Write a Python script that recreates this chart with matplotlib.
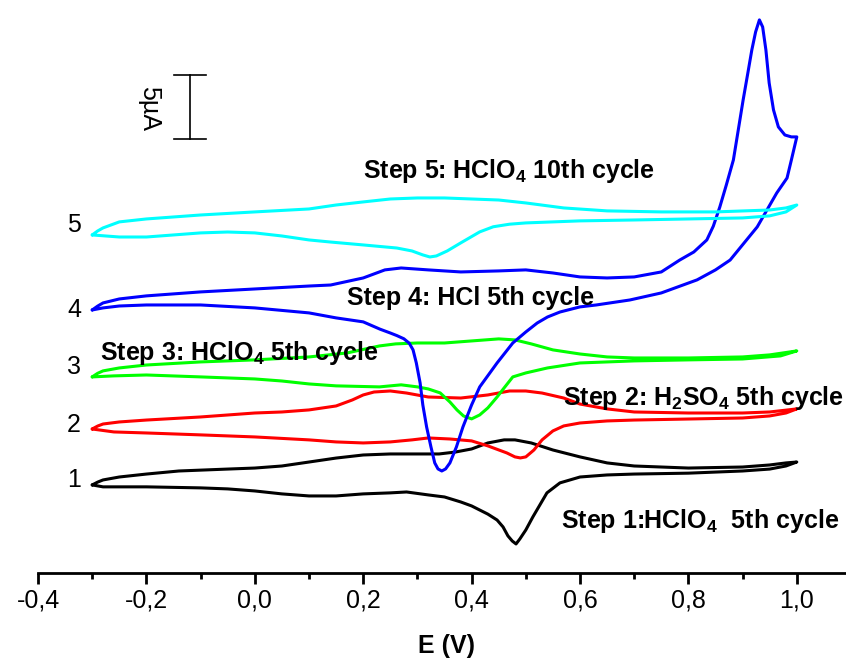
import matplotlib
matplotlib.use("Agg")
import matplotlib.pyplot as plt
from matplotlib.ticker import FixedLocator, FixedFormatter

plt.rcParams['font.family'] = ['Liberation Sans', 'DejaVu Sans']
plt.rcParams['mathtext.default'] = 'regular'

# ---------------- data (E in V, I in µA, curves vertically offset) ----------------
# Curve 1 (black) - Step 1: HClO4 5th cycle
E1_fwd = [-0.30, -0.29, -0.28, -0.25, -0.20, -0.14, -0.05, 0.00, 0.05, 0.10, 0.15, 0.20, 0.25, 0.30, 0.34,
          0.37, 0.40, 0.43, 0.46, 0.48, 0.51, 0.55, 0.60, 0.65, 0.70, 0.80, 0.90, 0.95, 0.98, 1.00]
I1_fwd = [6.88, 7.10, 7.27, 7.50, 7.73, 7.97, 8.12, 8.20, 8.36, 8.67, 8.98, 9.22, 9.30, 9.30, 9.30,
          9.45, 9.69, 10.16, 10.40, 10.40, 10.16, 9.61, 9.07, 8.60, 8.36, 8.20, 8.28, 8.44, 8.60, 8.67]
E1_rev = [1.00, 0.98, 0.95, 0.90, 0.80, 0.70, 0.65, 0.60, 0.563, 0.539, 0.526, 0.513, 0.50, 0.489,
          0.482, 0.475, 0.467, 0.458, 0.447, 0.43, 0.40, 0.38, 0.35, 0.32, 0.28, 0.25, 0.20, 0.15,
          0.10, 0.05, 0.00, -0.05, -0.10, -0.20, -0.28, -0.30]
I1_rev = [8.67, 8.36, 8.12, 7.97, 7.80, 7.73, 7.66, 7.50, 7.04, 6.26, 5.32, 4.38, 3.36, 2.66,
          2.27, 2.50, 2.90, 3.60, 4.14, 4.60, 5.24, 5.55, 5.94, 6.10, 6.33, 6.26, 6.18, 6.02,
          6.02, 6.18, 6.41, 6.57, 6.65, 6.73, 6.73, 6.88]

# Curve 2 (red) - Step 2: H2SO4 5th cycle
E2_fwd = [-0.30, -0.29, -0.28, -0.25, -0.20, -0.10, 0.00, 0.05, 0.10, 0.15, 0.18, 0.20, 0.22, 0.25, 0.28,
          0.32, 0.38, 0.43, 0.47, 0.50, 0.53, 0.57, 0.60, 0.65, 0.70, 0.80, 0.90, 0.95, 1.00]
I2_fwd = [11.25, 11.48, 11.64, 11.80, 11.95, 12.19, 12.50, 12.58, 12.74, 13.05, 13.52, 13.91, 14.14, 14.22, 14.06,
          13.75, 13.67, 13.91, 14.22, 14.22, 14.06, 13.67, 13.20, 12.82, 12.58, 12.50, 12.50, 12.58, 12.82]
E2_rev = [1.00, 0.98, 0.95, 0.90, 0.80, 0.70, 0.65, 0.60, 0.57, 0.55, 0.53, 0.515, 0.50, 0.49,
          0.48, 0.465, 0.43, 0.40, 0.36, 0.32, 0.29, 0.25, 0.20, 0.15, 0.10, 0.00, -0.10, -0.20,
          -0.26, -0.30]
I2_rev = [12.82, 12.50, 12.27, 12.11, 12.03, 11.95, 11.88, 11.72, 11.49, 11.10, 10.40, 9.61, 9.07, 8.99,
          9.07, 9.38, 9.93, 10.32, 10.47, 10.55, 10.40, 10.24, 10.16, 10.24, 10.40, 10.63, 10.79, 10.94,
          11.02, 11.25]

# Curve 3 (green) - Step 3: HClO4 5th cycle
E3_fwd = [-0.30, -0.29, -0.28, -0.25, -0.20, -0.10, 0.00, 0.10, 0.17, 0.23, 0.26, 0.30, 0.35, 0.40, 0.45,
          0.48, 0.51, 0.55, 0.60, 0.65, 0.70, 0.80, 0.90, 0.95, 1.00]
I3_fwd = [15.32, 15.60, 15.79, 16.02, 16.25, 16.49, 16.65, 16.88, 17.19, 17.74, 17.90, 17.97, 17.97, 18.13, 18.29,
          18.21, 17.90, 17.43, 17.11, 16.88, 16.80, 16.80, 16.88, 17.04, 17.35]
E3_rev = [1.00, 0.97, 0.90, 0.80, 0.70, 0.60, 0.54, 0.50, 0.476, 0.46, 0.447, 0.43, 0.415, 0.40,
          0.385, 0.373, 0.36, 0.342, 0.32, 0.30, 0.27, 0.23, 0.15, 0.10, 0.05, 0.00, -0.10, -0.20,
          -0.26, -0.30]
I3_rev = [17.35, 16.96, 16.72, 16.65, 16.57, 16.41, 16.02, 15.63, 15.32, 14.46, 13.75, 12.90, 12.35, 12.04,
          12.27, 12.74, 13.36, 14.07, 14.38, 14.54, 14.70, 14.54, 14.62, 14.77, 15.00, 15.16, 15.32, 15.47,
          15.40, 15.32]

# Curve 4 (blue) - Step 4: HCl 5th cycle
E4_fwd = [-0.30, -0.29, -0.28, -0.25, -0.20, -0.10, 0.00, 0.10, 0.14, 0.20, 0.24, 0.27, 0.32, 0.38, 0.45,
          0.50, 0.55, 0.60, 0.65, 0.70, 0.75, 0.784, 0.81, 0.834, 0.846, 0.858, 0.87, 0.883, 0.892, 0.901,
          0.91, 0.917, 0.924, 0.931, 0.937, 0.943, 0.949, 0.957, 0.966, 0.978, 0.99, 1.00]
I4_fwd = [20.55, 20.85, 21.10, 21.41, 21.65, 21.96, 22.19, 22.42, 22.50, 23.05, 23.68, 23.83, 23.68, 23.52, 23.60,
          23.68, 23.44, 23.13, 23.05, 23.13, 23.52, 24.45, 25.08, 26.02, 27.10, 28.60, 30.32, 32.27, 34.61, 36.96,
          39.14, 40.86, 42.27, 43.21, 42.66, 40.86, 38.29, 36.18, 34.85, 34.22, 34.07, 34.07]
E4_rev = [1.00, 0.99, 0.982, 0.963, 0.927, 0.877, 0.85, 0.816, 0.75, 0.692, 0.63, 0.60, 0.563, 0.54,
          0.521, 0.50, 0.476, 0.447, 0.415, 0.40, 0.384, 0.372, 0.36, 0.352, 0.345, 0.338, 0.332, 0.325,
          0.317, 0.31, 0.305, 0.298, 0.292, 0.285, 0.275, 0.262, 0.25, 0.231, 0.20, 0.15, 0.10, 0.00, -0.10,
          -0.20, -0.25, -0.28, -0.30]
I4_rev = [34.07, 32.27, 30.86, 29.69, 27.04, 24.45, 23.68, 22.90, 21.88, 21.33, 20.94, 20.79, 20.39, 20.00,
          19.53, 18.83, 17.97, 16.41, 14.54, 13.13, 11.41, 9.85, 8.60, 8.13, 7.97, 8.13, 8.60, 9.85,
          11.41, 13.13, 14.85, 16.41, 17.43, 17.95, 18.30, 18.55, 18.75, 19.05, 19.62, 19.93, 20.32, 20.71, 20.94,
          20.94, 20.86, 20.71, 20.55]

# Curve 5 (cyan) - Step 5: HClO4 10th cycle
E5_fwd = [-0.30, -0.29, -0.28, -0.25, -0.20, -0.10, 0.00, 0.10, 0.15, 0.20, 0.25, 0.30, 0.35, 0.40, 0.45,
          0.50, 0.57, 0.65, 0.75, 0.85, 0.95, 0.98, 1.00]
I5_fwd = [26.41, 26.72, 26.96, 27.43, 27.66, 27.97, 28.21, 28.44, 28.75, 28.99, 29.22, 29.30, 29.30, 29.22, 29.14,
          28.91, 28.52, 28.29, 28.21, 28.21, 28.36, 28.52, 28.75]
E5_rev = [1.00, 0.98, 0.95, 0.90, 0.80, 0.70, 0.60, 0.50, 0.47, 0.44, 0.415, 0.38, 0.355, 0.335, 0.323,
          0.31, 0.29, 0.262, 0.20, 0.139, 0.10, 0.05, 0.00, -0.05, -0.10, -0.15, -0.20, -0.25, -0.30]
I5_rev = [28.75, 28.21, 27.90, 27.74, 27.66, 27.58, 27.51, 27.35, 27.25, 27.05, 26.65, 25.79, 25.16, 24.77, 24.69,
          24.85, 25.16, 25.39, 25.63, 25.86, 26.02, 26.33, 26.57, 26.64, 26.57, 26.41, 26.25, 26.25, 26.41]

curve_numbers = ["1", "2", "3", "4", "5"]
curve_colors = ["#000000", "#ff0000", "#00ff00", "#0000ff", "#00ffff"]
step_labels = [r"Step 1:HClO$_4$  5th cycle",
               r"Step 2: H$_2$SO$_4$ 5th cycle",
               r"Step 3: HClO$_4$ 5th cycle",
               r"Step 4: HCl 5th cycle",
               r"Step 5: HClO$_4$ 10th cycle"]
tick_values = [-0.4, -0.2, 0.0, 0.2, 0.4, 0.6, 0.8, 1.0]
tick_labels = ["-0,4", "-0,2", "0,0", "0,2", "0,4", "0,6", "0,8", "1,0"]
minor_values = [-0.3, -0.1, 0.1, 0.3, 0.5, 0.7, 0.9]
scale_bar_uA = 5.0
x_label = "E (V)"

# ---------------- figure ----------------
W, H = 846, 661
fig = plt.figure(figsize=(W / 100, H / 100), dpi=100)
PX_PER_V = 542.0
PX_PER_UA = 12.8
ax_left, ax_bottom_px = 38, 573
ax_w = 816
ax = fig.add_axes([ax_left / W, (H - ax_bottom_px) / H, ax_w / W, ax_bottom_px / H])
ax.set_xlim(-0.4, -0.4 + ax_w / PX_PER_V)
ax.set_ylim(0, ax_bottom_px / PX_PER_UA)

curves = [(E1_fwd + E1_rev, I1_fwd + I1_rev),
          (E2_fwd + E2_rev, I2_fwd + I2_rev),
          (E3_fwd + E3_rev, I3_fwd + I3_rev),
          (E4_fwd + E4_rev, I4_fwd + I4_rev),
          (E5_fwd + E5_rev, I5_fwd + I5_rev)]
for (E, I), c in zip(curves, curve_colors):
    ax.plot(E, I, color=c, lw=2.2, solid_joinstyle='round', solid_capstyle='round', clip_on=False)

for s in ['left', 'right', 'top']:
    ax.spines[s].set_visible(False)
ax.spines['bottom'].set_linewidth(2.0)
ax.set_yticks([])
ax.xaxis.set_major_locator(FixedLocator(tick_values))
ax.xaxis.set_major_formatter(FixedFormatter(tick_labels))
ax.xaxis.set_minor_locator(FixedLocator(minor_values))
ax.tick_params(axis='x', which='major', direction='out', length=8, width=2.0, labelsize=18, pad=3)
ax.tick_params(axis='x', which='minor', direction='out', length=4, width=2.0)
ax.set_xlabel(x_label, fontsize=18, fontweight='bold')
ax.xaxis.label.set_va('center')
ax.xaxis.set_label_coords(0.5, -73 / ax_bottom_px)


def fx(px):
    return px / W


def fy(py):
    return 1 - py / H


# curve numbers on the left
num_pos_y = [480, 425, 367, 310, 225]
for n, py in zip(curve_numbers, num_pos_y):
    fig.text(fx(74), fy(py), n, fontsize=18, ha='center', va='center')

# step labels (left x, baseline y in px)
label_pos = [(561, 528), (563, 405), (100, 360), (347, 305), (363, 178)]
for txt, (px, py) in zip(step_labels, label_pos):
    fig.text(fx(px), fy(py), txt, fontsize=18, fontweight='bold', ha='left', va='baseline')

# scale bar 5 µA
sb_x = -0.4 + (190 - ax_left) / PX_PER_V
sb_y0 = (ax_bottom_px - 139) / PX_PER_UA
cap = 16 / PX_PER_V
ax.plot([sb_x, sb_x], [sb_y0, sb_y0 + scale_bar_uA], color='black', lw=1.2, clip_on=False)
ax.plot([sb_x - cap, sb_x + cap], [sb_y0, sb_y0], color='black', lw=1.2, clip_on=False)
ax.plot([sb_x - cap, sb_x + cap], [sb_y0 + scale_bar_uA, sb_y0 + scale_bar_uA], color='black', lw=1.2,
        clip_on=False)
fig.text(fx(149), fy(108), "5µA", fontsize=18, rotation=270, ha='center', va='center')

fig.savefig("out.png", dpi=100)
